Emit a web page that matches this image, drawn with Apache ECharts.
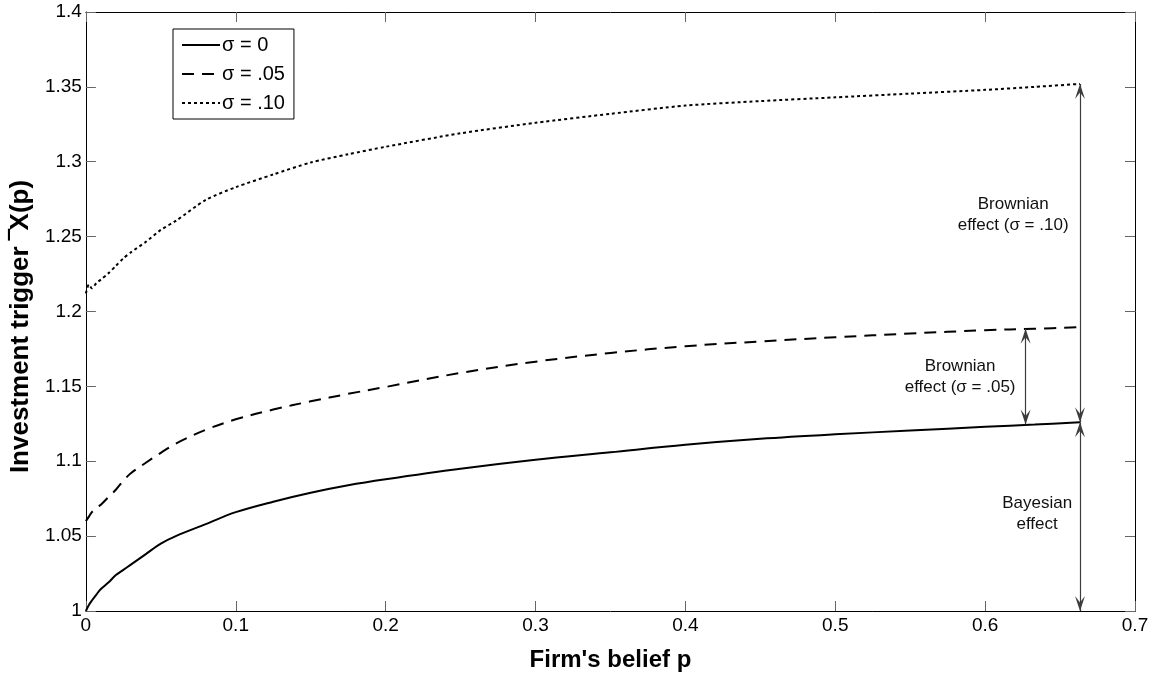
<!DOCTYPE html>
<html>
<head>
<meta charset="utf-8">
<script src="https://cdn.jsdelivr.net/npm/echarts@6/dist/echarts.min.js"></script>
<style>
html,body{margin:0;padding:0;background:#fff;}
#main{width:1153px;height:677px;}
</style>
</head>
<body>
<div id="main"></div>
<script>
// belief p grid
var beliefP = [0, 0.002, 0.004, 0.007, 0.01, 0.015, 0.02, 0.025, 0.03, 0.04, 0.05, 0.06, 0.08, 0.1, 0.125, 0.15, 0.175, 0.2, 0.25, 0.3, 0.35, 0.4, 0.45, 0.5, 0.55, 0.6, 0.633, 0.6633];
// investment trigger, sigma = 0
var trigSigma0 = [1.000, 1.004, 1.007, 1.011, 1.0147, 1.019, 1.024, 1.0275, 1.031, 1.038, 1.045, 1.050, 1.058, 1.066, 1.073, 1.079, 1.084, 1.088, 1.095, 1.101, 1.106, 1.111, 1.115, 1.118, 1.1205, 1.123, 1.1245, 1.126];
// sigma = .05
var trigSigma05 = [1.060, 1.063, 1.066, 1.069, 1.071, 1.076, 1.081, 1.087, 1.092, 1.099, 1.1056, 1.1118, 1.121, 1.128, 1.1345, 1.140, 1.145, 1.1496, 1.159, 1.1665, 1.1723, 1.1768, 1.180, 1.1828, 1.1853, 1.1875, 1.1885, 1.1895];
// sigma = .10
var trigSigma10 = [1.212, 1.218, 1.2155, 1.219, 1.2213, 1.2255, 1.2305, 1.2355, 1.2395, 1.2465, 1.2545, 1.2605, 1.2745, 1.283, 1.2915, 1.2995, 1.305, 1.310, 1.319, 1.326, 1.332, 1.3375, 1.3405, 1.343, 1.3455, 1.348, 1.350, 1.352];

var seriesNames = ['σ = 0', 'σ = .05', 'σ = .10'];

// annotation arrows: [x, yFrom, yTo]
var arrowBrown10 = [0.6633, 1.126, 1.352];
var arrowBrown05 = [0.627, 1.1245, 1.1885];
var arrowBayes = [0.6633, 1.0, 1.126];
// annotation texts: [x, y, text]
var noteBrown10 = [0.6187, 1.2643, 'Brownian\neffect (σ = .10)'];
var noteBrown05 = [0.5833, 1.1567, 'Brownian\neffect (σ = .05)'];
var noteBayes = [0.6347, 1.065, 'Bayesian\neffect'];

function pairs(ys){
	var out = [];
	for(var i=0;i<beliefP.length;i++){
		out.push([beliefP[i], ys[i]]);
	}
	return out;
}
function arrowLine(a){
	return [{coord:[a[0], a[1]]}, {coord:[a[0], a[2]]}];
}
function note(n){
	return {coord:[n[0], n[1]], value:n[2]};
}
function fmt(v){
	return String(+v.toFixed(2));
}

var fontName = 'Liberation Sans, Arial, sans-serif';
// open arrow head whose tip sits at the symbol centre (tiny dot on the far side keeps the box symmetric)
var headPath = 'path://M5,14 L10,28 L5,22 L0,28 Z M4.99,0 L5.01,0 L5,0.02 Z';
var tickStyle = {show:true, inside:true, length:10, lineStyle:{color:'#666', width:1}};

var myChart = echarts.init(document.getElementById('main'));
var option = {
	animation:false,
	backgroundColor:'#fff',
	grid:{left:85, right:18, top:12, bottom:65, show:false},
	legend:{
		orient:'vertical',
		left:173, top:29,
		data:seriesNames,
		itemWidth:38, itemHeight:14, itemGap:9,
		padding:[6,9,6,8],
		borderColor:'#000', borderWidth:1,
		backgroundColor:'#fff',
		itemStyle:{color:'rgba(0,0,0,0)', borderWidth:0, opacity:0},
		textStyle:{fontFamily:fontName, fontSize:20, color:'#000', padding:[0,0,0,-3]}
	},
	xAxis:[{
		type:'value', min:0, max:0.7, interval:0.1,
		position:'bottom',
		name:"Firm's belief p", nameLocation:'middle', nameGap:37,
		nameTextStyle:{fontFamily:fontName, fontSize:24, fontWeight:'bold', color:'#000'},
		axisLine:{show:true, onZero:false, lineStyle:{color:'#000', width:1}},
		axisTick:tickStyle,
		axisLabel:{show:true, margin:5, formatter:fmt, fontFamily:fontName, fontSize:19, color:'#000'},
		splitLine:{show:false}
	},{
		type:'value', min:0, max:0.7, interval:0.1,
		position:'top',
		axisLine:{show:true, onZero:false, lineStyle:{color:'#000', width:1}},
		axisTick:tickStyle,
		axisLabel:{show:false},
		splitLine:{show:false}
	}],
	yAxis:[{
		type:'value', min:1, max:1.4, interval:0.05,
		position:'left',
		name:'Investment trigger \u203EX(p)', nameLocation:'middle', nameGap:50,
		nameTextStyle:{fontFamily:fontName, fontSize:26, fontWeight:'bold', color:'#000', padding:[0,30,0,0]},
		axisLine:{show:true, onZero:false, lineStyle:{color:'#000', width:1}},
		axisTick:tickStyle,
		axisLabel:{show:true, margin:4, formatter:fmt, fontFamily:fontName, fontSize:19, color:'#000'},
		splitLine:{show:false}
	},{
		type:'value', min:1, max:1.4, interval:0.05,
		position:'right',
		axisLine:{show:true, onZero:false, lineStyle:{color:'#000', width:1}},
		axisTick:tickStyle,
		axisLabel:{show:false},
		splitLine:{show:false}
	}],
	series:[{
		name:seriesNames[0], type:'line', xAxisIndex:0, yAxisIndex:0,
		data:pairs(trigSigma0), symbol:'none', showSymbol:false,
		smooth:0.35,
		lineStyle:{color:'#000', width:2, type:'solid'},
		itemStyle:{color:'#000'},
		markLine:{
			silent:true, animation:false,
			symbol:[headPath, headPath], symbolSize:[10,30],
			lineStyle:{color:'#3c3c3c', width:1.2, type:'solid'},
			label:{show:false},
			data:[arrowLine(arrowBrown10), arrowLine(arrowBrown05), arrowLine(arrowBayes)]
		},
		markPoint:{
			silent:true, animation:false,
			symbol:'circle', symbolSize:0,
			label:{show:true, position:'inside', formatter:function(d){return d.value;},
				fontFamily:fontName, fontSize:17, lineHeight:21, color:'#111', align:'center'},
			data:[note(noteBrown10), note(noteBrown05), note(noteBayes)]
		}
	},{
		name:seriesNames[1], type:'line', xAxisIndex:0, yAxisIndex:0,
		data:pairs(trigSigma05), symbol:'none', showSymbol:false,
		smooth:0.35,
		lineStyle:{color:'#000', width:2, type:[12,8]},
		itemStyle:{color:'#000'}
	},{
		name:seriesNames[2], type:'line', xAxisIndex:0, yAxisIndex:0,
		data:pairs(trigSigma10), symbol:'none', showSymbol:false,
		smooth:0.25,
		lineStyle:{color:'#000', width:2, type:[3,3]},
		itemStyle:{color:'#000'}
	}]
};
myChart.setOption(option);
</script>
</body>
</html>
